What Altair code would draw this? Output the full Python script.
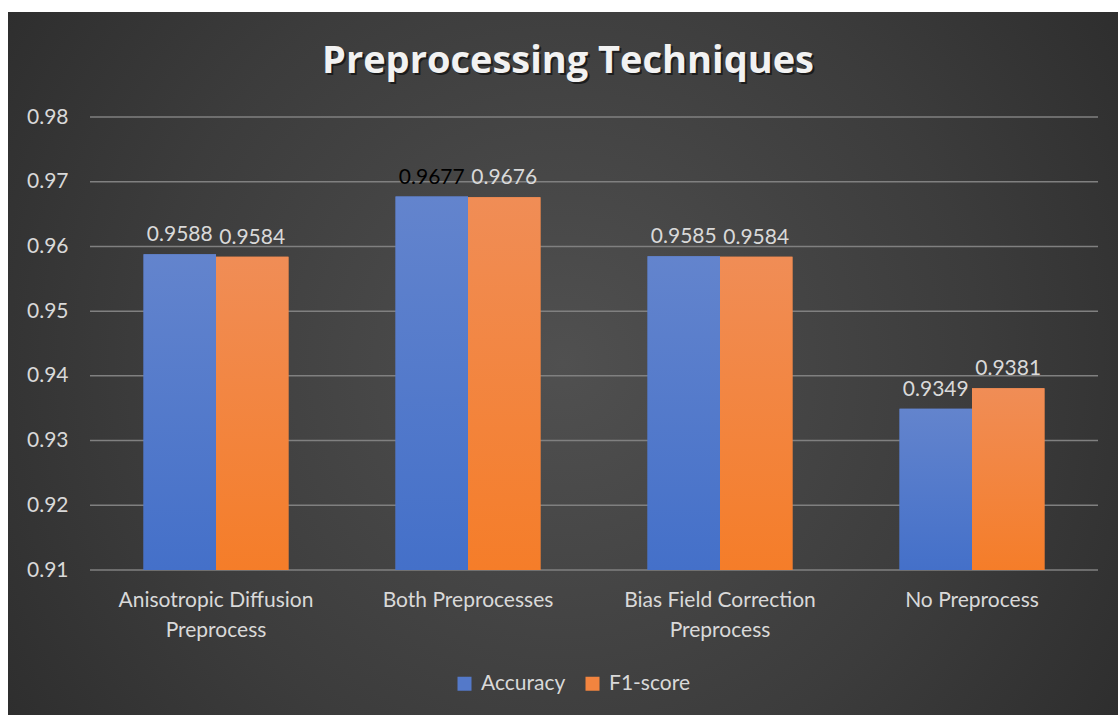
import altair as alt
import pandas as pd

# ---- data ----
title_text = "Preprocessing Techniques"
categories = ["Anisotropic Diffusion Preprocess", "Both Preprocesses",
              "Bias Field Correction Preprocess", "No Preprocess"]
accuracy = [0.9588, 0.9677, 0.9585, 0.9349]
f1_score = [0.9584, 0.9676, 0.9584, 0.9381]
series_names = ["Accuracy", "F1-score"]
y_ticks = [0.91, 0.92, 0.93, 0.94, 0.95, 0.96, 0.97, 0.98]

rows = []
for c, a, f in zip(categories, accuracy, f1_score):
    rows.append({"category": c, "series": "Accuracy", "value": a})
    rows.append({"category": c, "series": "F1-score", "value": f})
df = pd.DataFrame(rows)
grid_df = pd.DataFrame({"value": y_ticks})
title_df = pd.DataFrame({"t": [title_text]})

W, H = 1008, 453
LEFT, TOP, RIGHT, BOTTOM = 90, 117, 20, 145

label_color = "#d9d9d9"
FONT = "Lato"
FS = 21
TITLE_FONT = "'Open Sans', 'Noto Sans', sans-serif"
TITLE_FS = 38

blue_grad = alt.LinearGradient(gradient="linear", x1=0, y1=0, x2=0, y2=1,
                               stops=[alt.GradientStop(color="#6384cd", offset=0),
                                      alt.GradientStop(color="#4470c9", offset=1)])
orange_grad = alt.LinearGradient(gradient="linear", x1=0, y1=0, x2=0, y2=1,
                                 stops=[alt.GradientStop(color="#f08d56", offset=0),
                                        alt.GradientStop(color="#f57d29", offset=1)])
bg_grad = alt.RadialGradient(gradient="radial", x1=0.5, y1=0.5, r1=0, x2=0.5, y2=0.5, r2=0.75,
                             stops=[alt.GradientStop(color="#505050", offset=0),
                                    alt.GradientStop(color="#3c3c3c", offset=0.5),
                                    alt.GradientStop(color="#242424", offset=1)])

label_expr = ("datum.label == 'Anisotropic Diffusion Preprocess' ? ['Anisotropic Diffusion', 'Preprocess'] : "
              "datum.label == 'Bias Field Correction Preprocess' ? ['Bias Field Correction', 'Preprocess'] : datum.label")

x_enc = alt.X("category:N", sort=categories,
              scale=alt.Scale(paddingInner=0.425, paddingOuter=0.2125),
              axis=alt.Axis(title=None, labelExpr=label_expr, labelAngle=0, labelFontSize=FS,
                            labelColor=label_color, labelFont=FONT, labelLineHeight=30,
                            labelPadding=19, labelLimit=0, ticks=False, domain=False,
                            grid=False, zindex=1))
y_scale = alt.Scale(domain=[0.91, 0.98], zero=False, nice=False)
y_axis = alt.Axis(title=None, values=y_ticks, format=".2f", labelFontSize=FS,
                  labelColor=label_color, labelFont=FONT, labelPadding=22,
                  ticks=False, domain=False, grid=False, zindex=1)
y_enc = alt.Y("value:Q", scale=y_scale, axis=y_axis)
xo = alt.XOffset("series:N", sort=series_names, scale=alt.Scale(paddingInner=0, paddingOuter=0))

bg = alt.Chart(pd.DataFrame({"d": [0]})).mark_rect(fill=bg_grad).encode(
    x=alt.value(8 - LEFT), x2=alt.value(1118 - LEFT),
    y=alt.value(12 - TOP), y2=alt.value(715 - TOP))

# chart title drawn as text (with a soft shadow)
title_shadow = alt.Chart(title_df).mark_text(
    font=TITLE_FONT, fontSize=TITLE_FS, fontWeight="bold", color="#000000", opacity=0.55,
    baseline="alphabetic", align="center").encode(
    text="t:N", x=alt.value(568 - LEFT + 2), y=alt.value(73 - TOP + 2))
title_main = alt.Chart(title_df).mark_text(
    font=TITLE_FONT, fontSize=TITLE_FS, fontWeight="bold", color="#f2f2f2",
    baseline="alphabetic", align="center").encode(
    text="t:N", x=alt.value(568 - LEFT), y=alt.value(73 - TOP))

grid = alt.Chart(grid_df).mark_rule(color="#808080", strokeWidth=1.5).encode(
    y=y_enc, x=alt.value(0), x2=alt.value(W))

base = alt.Chart(df)

legend_bars = base.mark_bar().encode(
    x=x_enc, xOffset=xo, y=y_enc, y2=alt.Y2(datum=0.91),
    color=alt.Color("series:N", sort=series_names,
                    scale=alt.Scale(domain=series_names, range=["#5479c9", "#f2843f"]),
                    legend=alt.Legend(title=None, orient="none", direction="horizontal",
                                      legendX=364, legendY=556, symbolType="square",
                                      symbolSize=196, symbolStrokeWidth=0, labelFontSize=FS,
                                      labelColor=label_color, labelFont=FONT,
                                      labelOffset=6, columnPadding=16)))

blue_bars = base.transform_filter(alt.datum.series == "Accuracy").mark_bar(fill=blue_grad).encode(
    x=x_enc, xOffset=xo, y=y_enc, y2=alt.Y2(datum=0.91))
orange_bars = base.transform_filter(alt.datum.series == "F1-score").mark_bar(fill=orange_grad).encode(
    x=x_enc, xOffset=xo, y=y_enc, y2=alt.Y2(datum=0.91))

labels = base.mark_text(fontSize=FS, font=FONT, baseline="alphabetic", dy=-13).encode(
    x=x_enc, xOffset=xo, y=y_enc,
    text=alt.Text("value:Q", format=".4f"),
    color=alt.condition(alt.datum.value == 0.9677, alt.value("#000000"), alt.value(label_color)))

chart = alt.layer(bg, title_shadow, title_main, grid, legend_bars, blue_bars, orange_bars,
                  labels).properties(
    width=W, height=H,
    padding={"left": LEFT, "top": TOP, "right": RIGHT, "bottom": BOTTOM},
    autosize=alt.AutoSizeParams(type="none"),
    background="white",
).configure_view(stroke=None)

chart.save("out.html", embed_options={"renderer": "svg", "actions": False})
